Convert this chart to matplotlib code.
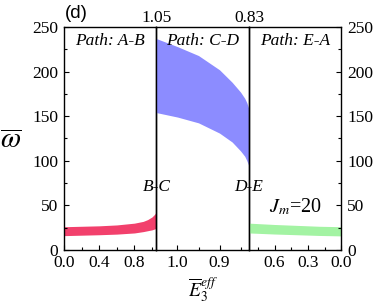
import matplotlib
matplotlib.use("Agg")
import matplotlib.pyplot as plt
from matplotlib.ticker import MultipleLocator, FixedLocator, FormatStrFormatter

plt.rcParams['font.family'] = ['Liberation Serif', 'DejaVu Serif']
plt.rcParams['mathtext.fontset'] = 'stix'

# ---- data ----
# Path A-B (red band)
ab_x = [0.0, 0.2, 0.4, 0.6, 0.8, 0.9, 0.95, 1.0, 1.03, 1.05]
ab_upper = [26, 26.5, 27, 28, 30, 32, 34, 37, 40, 43]
ab_lower = [16, 16.5, 17, 17.7, 19, 20.5, 21.5, 22.5, 23.5, 24.5]

# Path C-D (blue band)
cd_x = [1.05, 1.0, 0.95, 0.9, 0.87, 0.85, 0.84, 0.835, 0.83]
cd_upper = [237, 228, 218, 202, 188, 177, 170, 165, 158]
cd_lower = [154, 149, 142.5, 131, 121, 111, 105, 100, 94]

# Path E-A (green band)
ea_x = [0.83, 0.6, 0.4, 0.2, 0.0]
ea_upper = [30, 28.5, 27.5, 26.5, 26]
ea_lower = [19, 17.8, 17, 16.2, 15.7]

panel_limits = [(0.0, 1.05), (1.05, 0.83), (0.83, 0.0)]
major_ticks = [[0.0, 0.4, 0.8], [1.0, 0.9], [0.6, 0.3, 0.0]]
minor_ticks = [[0.2, 0.6, 1.0], [0.95, 0.85], [0.75, 0.45, 0.15]]
path_labels = ['Path: A-B', 'Path: C-D', 'Path: E-A']
boundary_values = ['1.05', '0.83']
point_labels = ['B-C', 'D-E']

red = '#f2406c'
blue = '#8c8cff'
green = '#a3f3a3'

fig = plt.figure(figsize=(3.74, 3.07), dpi=100)
gs = fig.add_gridspec(1, 3, left=0.171, right=0.913, bottom=0.186, top=0.912, wspace=0)
axes = [fig.add_subplot(gs[0, i]) for i in range(3)]

bands = [(ab_x, ab_lower, ab_upper, red), (cd_x, cd_lower, cd_upper, blue), (ea_x, ea_lower, ea_upper, green)]
fs = 12.5
for i, ax in enumerate(axes):
    ax.patch.set_visible(False)
    x, lo, up, c = bands[i]
    ax.fill_between(x, lo, up, color=c, lw=0)
    ax.set_xlim(*panel_limits[i])
    ax.set_ylim(0, 250)
    ax.xaxis.set_major_locator(FixedLocator(major_ticks[i]))
    ax.xaxis.set_minor_locator(FixedLocator(minor_ticks[i]))
    ax.xaxis.set_major_formatter(FormatStrFormatter('%.1f'))
    ax.yaxis.set_major_locator(MultipleLocator(50))
    ax.yaxis.set_minor_locator(MultipleLocator(25))
    ax.tick_params(which='both', direction='in', labelsize=fs, top=False)
    ax.tick_params(which='major', length=3.5, width=0.8, pad=4)
    ax.tick_params(which='minor', length=2, width=0.8)
    for s in ax.spines.values():
        s.set_linewidth(1.0)
    ax.text(0.5, 0.975, path_labels[i], transform=ax.transAxes, ha='center', va='top',
            fontsize=fs, style='italic')
    if i == 0:
        ax.tick_params(axis='y', which='both', left=True, right=False, labelleft=True)
    elif i == 1:
        ax.tick_params(axis='y', which='both', left=False, right=False, labelleft=False)
    else:
        ax.tick_params(axis='y', which='both', left=False, right=True, labelleft=False, labelright=True)

# boundary values above the top
axes[0].text(1.0, 1.005, boundary_values[0], transform=axes[0].transAxes, ha='center', va='bottom', fontsize=fs)
axes[1].text(1.0, 1.005, boundary_values[1], transform=axes[1].transAxes, ha='center', va='bottom', fontsize=fs)

# switching-point labels
for ax, lab in zip(axes[:2], point_labels):
    ax.text(1.0, 71, lab, transform=ax.get_yaxis_transform(), ha='center', va='center',
            fontsize=fs, style='italic', zorder=10, clip_on=False)

axes[2].text(0.5, 48, r'$J_m$=20', ha='center', va='center', fontsize=14.5, transform=axes[2].get_yaxis_transform())

axes[1].set_xlabel(r'$\overline{E}_3^{eff}$', fontsize=14, labelpad=3)
fig.text(0.03, 0.54, r'$\overline{\omega}$', fontsize=21, ha='center', va='center')
fig.text(0.205, 0.955, '(d)', fontsize=13.5, ha='center', va='center', family='Liberation Sans')

fig.savefig('out.png', dpi=100)
